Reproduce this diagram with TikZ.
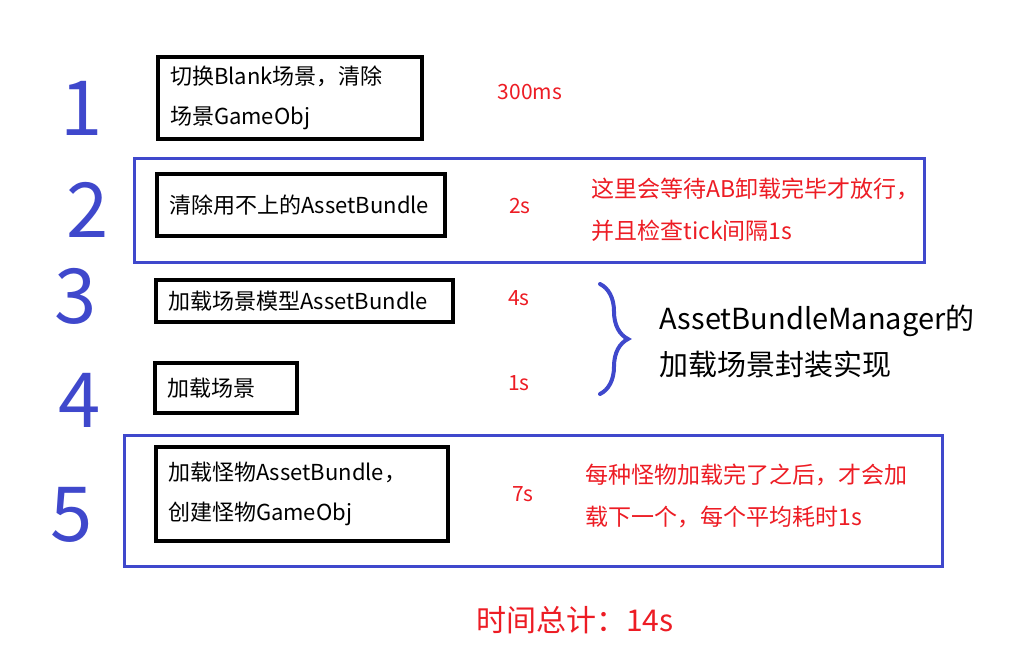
\documentclass[tikz,border=0pt]{standalone}
\usepackage{fontspec}
\setmainfont{Noto Sans CJK SC}
\usepackage{tikz}
\usetikzlibrary{positioning,decorations.pathreplacing}
\definecolor{penblue}{HTML}{3F48CC}
\definecolor{notered}{HTML}{ED1C24}

\begin{document}
\begin{tikzpicture}[
  x=1pt, y=-1pt,
  stepbox/.style={draw=black, line width=4pt, inner xsep=12pt, inner ysep=0pt, align=left, font=\fontsize{22}{40}\selectfont},
  frame/.style={draw=penblue, line width=3pt},
  stepnum/.style={text=penblue, font=\fontsize{76}{76}\selectfont},
  cost/.style={text=notered, font=\fontsize{21}{40}\selectfont},
  note/.style={text=notered, align=left, anchor=west, font=\fontsize{23}{42}\selectfont},
  node distance=0.45cm and 0.42cm
]
  \useasboundingbox (0,0) rectangle (1015,662);
  \fill[white] (0,0) rectangle (1015,662);

  \draw[frame] (134,158) rectangle (924,262);
  \draw[frame] (124,435) rectangle (942,566);

  \node[stepnum] (n1) at (82,108) {1};
  \node[stepnum] (n2) at (88,210) {2};
  \node[stepnum] (n3) at (76,296) {3};
  \node[stepnum] (n4) at (80,400) {4};
  \node[stepnum] (n5) at (72,515) {5};

  \node[stepbox, text width=240pt, minimum height=82pt] (s1) at (290,98) {切换Blank场景，清除\\场景GameObj};
  \node[stepbox, text width=264pt, minimum height=62pt] (s2) at (301,205) {清除用不上的AssetBundle};
  \node[stepbox, text width=273pt, minimum height=42pt] (s3) at (304.5,301) {加载场景模型AssetBundle};
  \node[stepbox, text width=118pt, minimum height=50pt] (s4) at (226,388) {加载场景};
  \node[stepbox, text width=268pt, minimum height=94pt] (s5) at (302,494) {加载怪物AssetBundle，\\创建怪物GameObj};

  \node[cost] (t1) at (530,92) {300ms};
  \node[cost] (t2) at (520,206) {2s};
  \node[cost] (t3) at (519,298) {4s};
  \node[cost] (t4) at (519,383) {1s};
  \node[cost] (t5) at (523,494) {7s};

  \node[note] (w2) at (588,210) {这里会等待AB卸载完毕才放行，\\并且检查tick间隔1s};
  \node[note] (w5) at (582,496) {每种怪物加载完了之后，才会加\\载下一个，每个平均耗时1s};

  \coordinate (bt) at (600,284);
  \coordinate (bb) at (600,394);
  \draw[penblue, line width=4pt, line cap=round, decorate, decoration={brace, amplitude=28pt}] (bt) -- (bb);
  \node[anchor=west, align=left, font=\fontsize{29}{46}\selectfont] (mgr) at (656,341) {AssetBundleManager的\\加载场景封装实现};

  \node[text=notered, font=\fontsize{30}{30}\selectfont] (total) at (575,620) {时间总计：14s};
\end{tikzpicture}
\end{document}
